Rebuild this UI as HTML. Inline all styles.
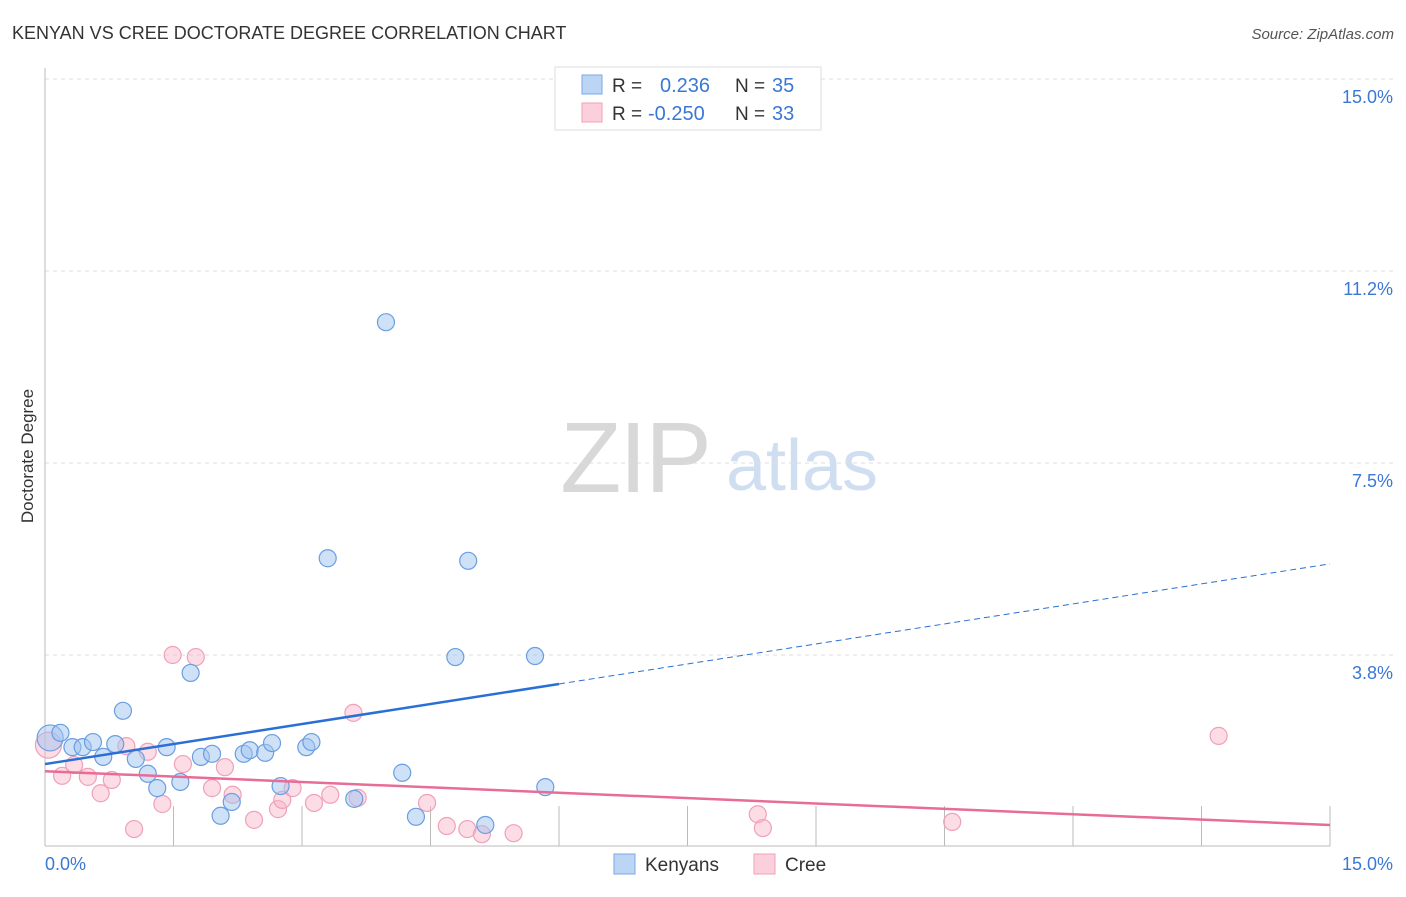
<!DOCTYPE html>
<html><head><meta charset="utf-8"><style>
body{margin:0;background:#fff;font-family:"Liberation Sans",sans-serif}
svg text{font-family:"Liberation Sans",sans-serif}
</style></head><body>
<svg id="chart" width="1406" height="892" xmlns="http://www.w3.org/2000/svg">
<text x="12" y="39" font-size="18" fill="#333">KENYAN VS CREE DOCTORATE DEGREE CORRELATION CHART</text>
<text x="1394" y="39" font-size="15" fill="#555" text-anchor="end" font-style="italic">Source: ZipAtlas.com</text>
<g>
<text x="635" y="492" font-size="100" fill="#d8d8d8" font-family="Liberation Serif" text-anchor="middle" letter-spacing="-2">ZIP</text>
<text x="802" y="490" font-size="72" fill="#d0def2" text-anchor="middle">atlas</text>
</g>
<g id="grid"></g>
<g id="axes"></g>
<g id="marks"></g>
<text transform="translate(33,456) rotate(-90)" font-size="17" fill="#333" text-anchor="middle">Doctorate Degree</text>
<g>
<rect x="555" y="67" width="266" height="63" fill="#fff" stroke="#ddd"/>
<rect x="582" y="75" width="20" height="19" fill="#bcd5f5" stroke="#7aa8e6"/>
<rect x="582" y="103" width="20" height="19" fill="#fbcfdc" stroke="#f0a0b8"/>
<text x="612" y="92" font-size="19" fill="#333">R = </text><text x="660" y="92" font-size="20" fill="#3a78d4">0.236</text>
<text x="735" y="92" font-size="19" fill="#333">N = </text><text x="772" y="92" font-size="20" fill="#3a78d4">35</text>
<text x="612" y="120" font-size="19" fill="#333">R = </text><text x="648" y="120" font-size="20" fill="#3a78d4">-0.250</text>
<text x="735" y="120" font-size="19" fill="#333">N = </text><text x="772" y="120" font-size="20" fill="#3a78d4">33</text>
</g>
<g>
<rect x="614" y="854" width="21" height="20" fill="#bcd5f5" stroke="#7aa8e6"/>
<text x="645" y="871" font-size="19" fill="#333">Kenyans</text>
<rect x="754" y="854" width="21" height="20" fill="#fbcfdc" stroke="#f0a0b8"/>
<text x="785" y="871" font-size="19" fill="#333">Cree</text>
</g>
</svg>
<script>
const yTicks=[3.75,7.5,11.25,15];
const yTickLabels=["3.8%","7.5%","11.2%","15.0%"];
const xTickLabels=["0.0%","15.0%"];
const kenyanX=[0.06,0.18,0.32,0.44,0.56,0.68,0.82,0.91,1.06,1.20,1.31,1.42,1.58,1.70,1.82,1.95,2.05,2.18,2.32,2.39,2.57,2.65,2.75,3.05,3.11,3.30,3.61,3.98,4.17,4.33,4.79,4.94,5.14,5.72,5.84];
const kenyanY=[2.13,2.23,1.95,1.95,2.05,1.76,2.01,2.66,1.72,1.43,1.15,1.95,1.27,3.40,1.76,1.82,0.61,0.88,1.82,1.89,1.84,2.03,1.19,1.95,2.05,5.64,0.94,10.25,1.45,0.59,3.71,5.59,0.43,3.73,1.17];
const creeX=[0.04,0.20,0.34,0.50,0.65,0.78,0.95,1.04,1.20,1.37,1.49,1.61,1.76,1.95,2.10,2.19,2.44,2.72,2.77,2.89,3.14,3.33,3.60,3.65,4.46,4.69,4.93,5.10,5.47,8.32,8.38,10.59,13.70];
const creeY=[1.99,1.39,1.60,1.37,1.05,1.31,1.97,0.35,1.86,0.84,3.75,1.62,3.71,1.15,1.56,1.02,0.53,0.74,0.92,1.15,0.86,1.02,2.62,0.96,0.86,0.41,0.35,0.25,0.27,0.64,0.37,0.49,2.17];
const kenyanTrend=[1.62,5.53];
const creeTrend=[1.48,0.43];
const X=v=>45+v/15*1285, Y=v=>847-v/15*768;
const NS="http://www.w3.org/2000/svg";
function mk(tag,attrs,parent){const e=document.createElementNS(NS,tag);for(const k in attrs)e.setAttribute(k,attrs[k]);document.getElementById(parent).appendChild(e);return e;}
yTicks.forEach((t,i)=>{
 const l=mk('line',{x1:45,x2:1395,y1:Y(t),y2:Y(t),stroke:'#ddd','stroke-dasharray':'4,4'},'grid');
 
 
 const tx=mk('text',{x:1393,y:Y(t)+24,'font-size':18,fill:'#3a78d4','text-anchor':'end'},'axes');
 tx.textContent=yTickLabels[i];
 
 
});
const ax=mk('line',{x1:45,x2:45,y1:68,y2:846,stroke:'#bbb'},'axes');


const bx=mk('line',{x1:45,x2:1330,y1:846,y2:846,stroke:'#bbb'},'axes');


for(let i=1;i<=10;i++){const v=i*1.5;const t=mk('line',{x1:X(v),x2:X(v),y1:806,y2:846,stroke:'#bbb'},'axes');
 
 }
[[0,'start',45],[15,'end',1393]].forEach(([v,a,px],i)=>{const t=mk('text',{x:px,y:870,'font-size':18,fill:'#3a78d4','text-anchor':a},'axes');t.textContent=xTickLabels[i];
 
 });
function dots(xs,ys,fill,stroke,name){xs.forEach((x,i)=>{const c=mk('circle',{cx:X(x),cy:Y(ys[i]),r:i===0?13:8.5,fill:fill,stroke:stroke,'stroke-width':1.2},'marks');
 
 });}
dots(creeX,creeY,'rgba(248,180,200,0.45)','#f0a0b8','cree-point');
dots(kenyanX,kenyanY,'rgba(160,196,240,0.5)','#6a9ee0','kenyan-point');
const kAt=v=>kenyanTrend[0]+(kenyanTrend[1]-kenyanTrend[0])*v/15;
const k1=mk('line',{x1:X(0),y1:Y(kAt(0)),x2:X(6),y2:Y(kAt(6)),stroke:'#2a6fd6','stroke-width':2.5},'marks');


const k2=mk('line',{x1:X(6),y1:Y(kAt(6)),x2:X(15),y2:Y(kAt(15)),stroke:'#2a6fd6','stroke-width':1,'stroke-dasharray':'6,4'},'marks');


const c1=mk('line',{x1:X(0),y1:Y(creeTrend[0]),x2:X(15),y2:Y(creeTrend[1]),stroke:'#e86c98','stroke-width':2.5},'marks');


</script>
</body></html>
